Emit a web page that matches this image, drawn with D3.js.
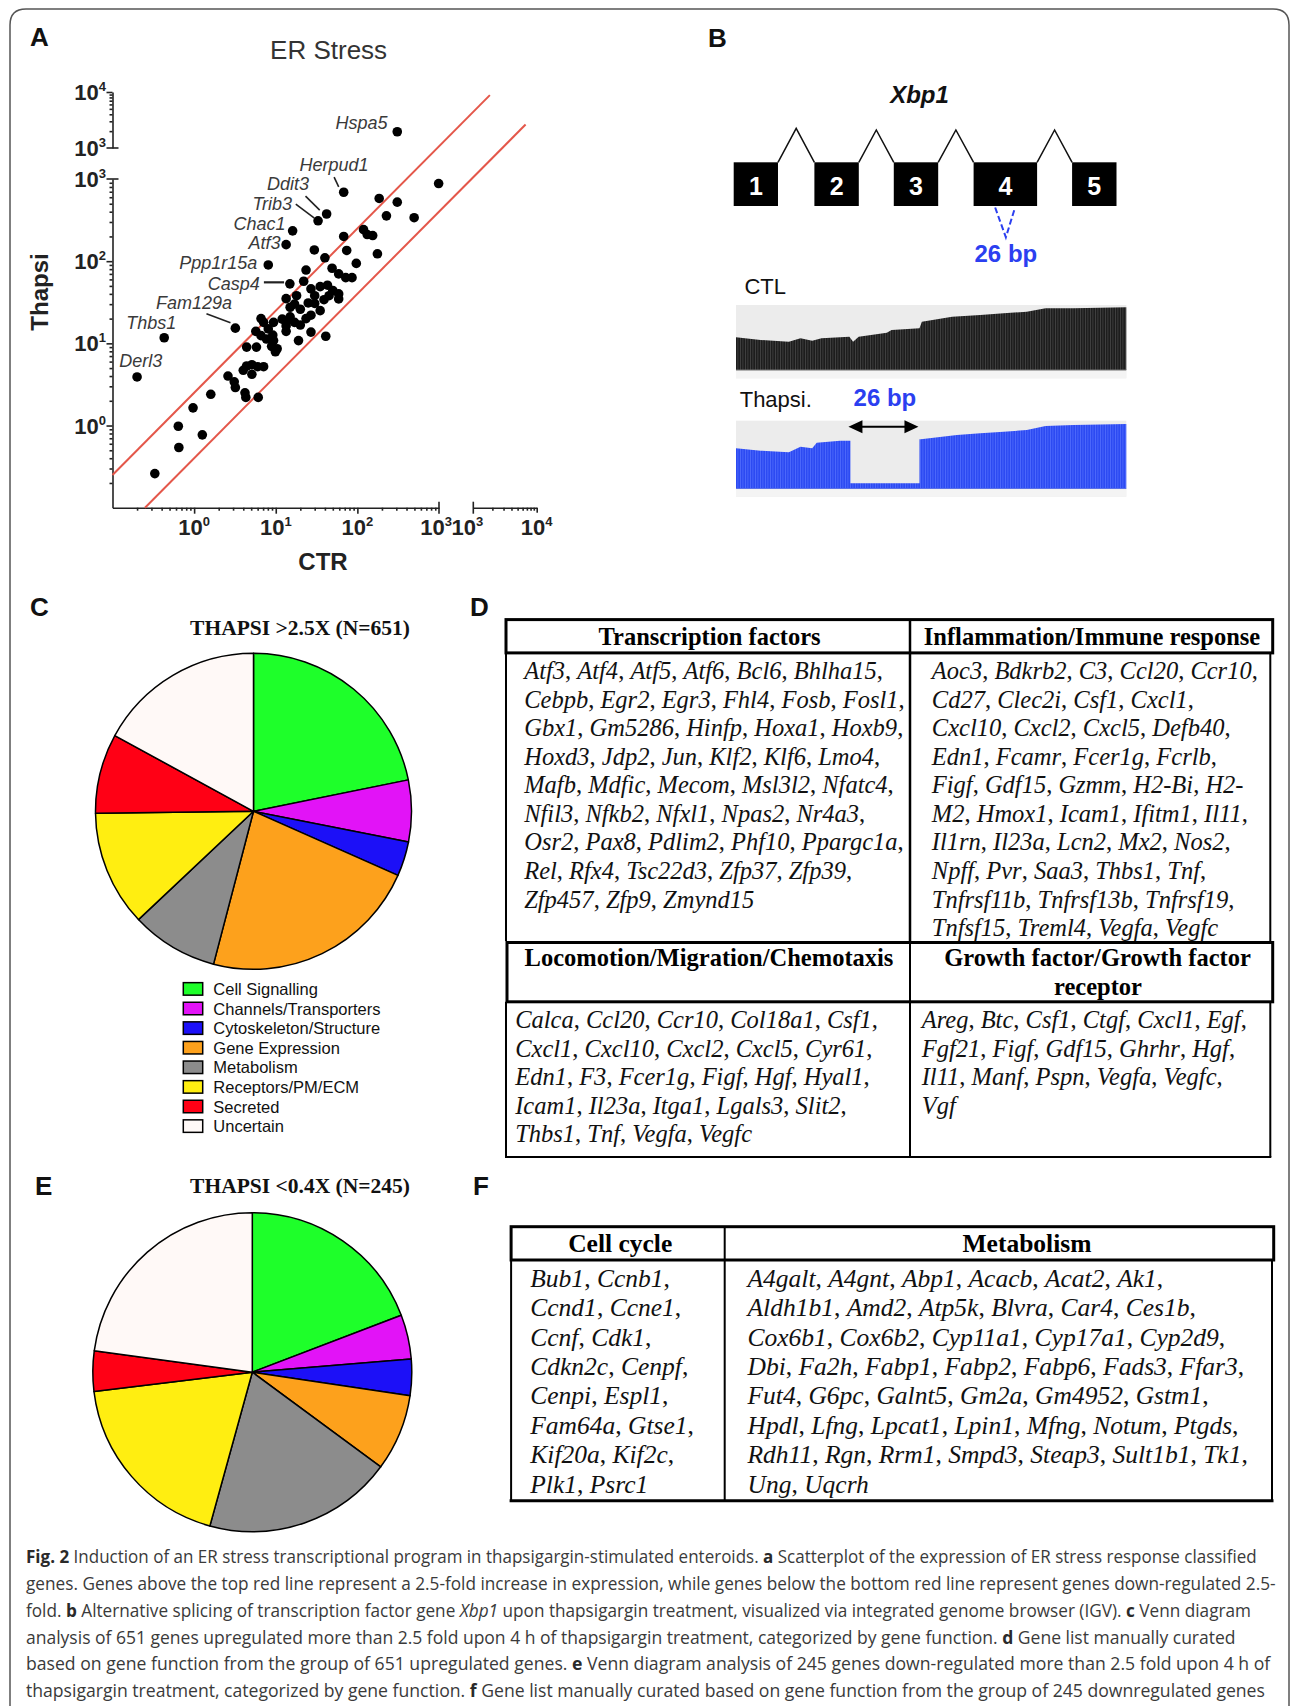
<!DOCTYPE html>
<html><head><meta charset="utf-8">
<script src="https://cdn.jsdelivr.net/npm/d3@7"></script>
<style>body{margin:0;background:#fff}svg{display:block}</style>
</head><body>
<svg id="fig" width="1292" height="1706"></svg>
<script>
// ================= DATA =================
// Panel A: ER stress genes, [CTR, Thapsi] expression
const ctrValues = [0.2,0.43,3.2,8.1,13.4,16.1,33,42,68,14.9,308,990,185,308,227,496,68,119,132,154,74,29.7,40,176,97,49,59,72,86,23.5,22,27,35,43,50,59,45,39,59,18,13.4,30,25,17,15,20,27,23.5,15,12,17,13.4,20,30,35,6.6,9.4,8.1,13.4,27,41,19,5.7,6.6,9.2,9.4,7.7,8.9,10.4,9.9,4.4,5.8,4.4,5.1,6,7.1,4,5.1,2.6,3.1,3.2,4.2,4.3,6.1,1.6,0.97,0.64,1.26,0.65,0.33,7.1,13.4];
const thapsiValues = [3.9,11.7,15.3,90,159,234,310,375,690,53,1950,880,580,523,356,338,200,242,211,205,135,137,110,123,94,82,70,63,63,78,57,46,49,51,44,40,38,34,34.7,38,35,38,31,30,27.5,26,22,20,21,19.7,18,16.3,16.7,30.6,25,20,18,15,14,13.7,12.2,10.8,14,12.4,12.6,10.8,11.3,9.2,8.6,7.9,9,9,5.3,5.5,5.2,5.2,4.7,4.2,4,3.4,2.9,2.5,2.2,2.2,2.4,1.64,0.98,0.77,0.54,0.26,18,18];
const labelNames = ["Derl3","Thbs1","Fam129a","Ppp1r15a","Atf3","Chac1","Trib3","Ddit3","Herpud1","Casp4","Hspa5"];
const labelPoint = [0,1,2,3,4,5,6,7,8,9,10];
const foldLines = [2.5, 0.4];
const foldLineCtrRange = [[0.1, 4200], [0.25, 11500]];
const yTickValues = [1, 10, 100, 1000];
const yTickExp = ["0","1","2","3"];
const xTickValues = [1, 10, 100, 1000];
const xTickExp = ["0","1","2","3"];

// Panel B: Xbp1 exons (relative gene units) and read coverage
const exonNumbers = [1,2,3,4,5];
const exonStart = [0, 21.08, 41.82, 62.67, 88.4];
const exonEnd = [11.57, 32.68, 53.42, 79.26, 100];
const spliceSite = [68.3, 71.1, 73.5];
const covPosCTL = [0,9.3,19.9,24.3,28.7,32.2,42.7,44.1,46.2,56.8,58.6,69.1,70,81.4,92,100.8,109.5,116.6,127.1,147];
const covCTL = [50.3,46.2,43.6,48.7,45.1,48.7,51.3,43.6,51.3,57.4,61.5,64.1,74.4,82,84.6,87.2,89.7,94.9,94.9,96.4];
const covPosThapsi = [0,9.3,19.9,24.3,28.7,30.4,39.2,43.1,43.1,69.1,69.1,69.6,83.2,92,100.8,109.5,116.6,127.1,147];
const covThapsi = [59.1,55.7,53.2,61.6,59.1,67.5,70.4,70.4,7.4,7.4,72.4,72.4,78.8,81.3,83.7,86.2,92.1,93.6,95.1];
const deletionBp = [43.1, 69.1];

// Panels C / E: gene function categories
const categories = ["Cell Signalling","Channels/Transporters","Cytoskeleton/Structure","Gene Expression","Metabolism","Receptors/PM/ECM","Secreted","Uncertain"];
const countsUp = [142,41,23,146,58,77,53,111];
const countsDown = [47,11,9,19,47,46,10,56];
const catColors = ["#1eff2a","#e213f7","#1c10f7","#fda11c","#8c8c8c","#ffee11","#ff0015","#fff9f7"];

// Panel D table
const tfGenes = ["Atf3, Atf4, Atf5, Atf6, Bcl6, Bhlha15,","Cebpb, Egr2, Egr3, Fhl4, Fosb, Fosl1,","Gbx1, Gm5286, Hinfp, Hoxa1, Hoxb9,","Hoxd3, Jdp2, Jun, Klf2, Klf6, Lmo4,","Mafb, Mdfic, Mecom, Msl3l2, Nfatc4,","Nfil3, Nfkb2, Nfxl1, Npas2, Nr4a3,","Osr2, Pax8, Pdlim2, Phf10, Ppargc1a,","Rel, Rfx4, Tsc22d3, Zfp37, Zfp39,","Zfp457, Zfp9, Zmynd15"];
const immuneGenes = ["Aoc3, Bdkrb2, C3, Ccl20, Ccr10,","Cd27, Clec2i, Csf1, Cxcl1,","Cxcl10, Cxcl2, Cxcl5, Defb40,","Edn1, Fcamr, Fcer1g, Fcrlb,","Figf, Gdf15, Gzmm, H2-Bi, H2-","M2, Hmox1, Icam1, Ifitm1, Il11,","Il1rn, Il23a, Lcn2, Mx2, Nos2,","Npff, Pvr, Saa3, Thbs1, Tnf,","Tnfrsf11b, Tnfrsf13b, Tnfrsf19,","Tnfsf15, Treml4, Vegfa, Vegfc"];
const locoGenes = ["Calca, Ccl20, Ccr10, Col18a1, Csf1,","Cxcl1, Cxcl10, Cxcl2, Cxcl5, Cyr61,","Edn1, F3, Fcer1g, Figf, Hgf, Hyal1,","Icam1, Il23a, Itga1, Lgals3, Slit2,","Thbs1, Tnf, Vegfa, Vegfc"];
const growthGenes = ["Areg, Btc, Csf1, Ctgf, Cxcl1, Egf,","Fgf21, Figf, Gdf15, Ghrhr, Hgf,","Il11, Manf, Pspn, Vegfa, Vegfc,","Vgf"];
// Panel F table
const cellCycleGenes = ["Bub1, Ccnb1,","Ccnd1, Ccne1,","Ccnf, Cdk1,","Cdkn2c, Cenpf,","Cenpi, Espl1,","Fam64a, Gtse1,","Kif20a, Kif2c,","Plk1, Psrc1"];
const metabGenes = ["A4galt, A4gnt, Abp1, Acacb, Acat2, Ak1,","Aldh1b1, Amd2, Atp5k, Blvra, Car4, Ces1b,","Cox6b1, Cox6b2, Cyp11a1, Cyp17a1, Cyp2d9,","Dbi, Fa2h, Fabp1, Fabp2, Fabp6, Fads3, Ffar3,","Fut4, G6pc, Galnt5, Gm2a, Gm4952, Gstm1,","Hpdl, Lfng, Lpcat1, Lpin1, Mfng, Notum, Ptgds,","Rdh11, Rgn, Rrm1, Smpd3, Steap3, Sult1b1, Tk1,","Ung, Uqcrh"];

// Caption
const captionLines = [
  [["Fig. 2","b"],[" Induction of an ER stress transcriptional program in thapsigargin-stimulated enteroids. ",""],["a","b"],[" Scatterplot of the expression of ER stress response classified",""]],
  [["genes. Genes above the top red line represent a 2.5-fold increase in expression, while genes below the bottom red line represent genes down-regulated 2.5-",""]],
  [["fold. ",""],["b","b"],[" Alternative splicing of transcription factor gene ",""],["Xbp1","i"],[" upon thapsigargin treatment, visualized via integrated genome browser (IGV). ",""],["c","b"],[" Venn diagram",""]],
  [["analysis of 651 genes upregulated more than 2.5 fold upon 4 h of thapsigargin treatment, categorized by gene function. ",""],["d","b"],[" Gene list manually curated",""]],
  [["based on gene function from the group of 651 upregulated genes. ",""],["e","b"],[" Venn diagram analysis of 245 genes down-regulated more than 2.5 fold upon 4 h of",""]],
  [["thapsigargin treatment, categorized by gene function. ",""],["f","b"],[" Gene list manually curated based on gene function from the group of 245 downregulated genes",""]]
];

// ================= DRAWING =================
const SANS = "'Liberation Sans', Arial, Helvetica, sans-serif";
const SERIF = "'Liberation Serif', 'Times New Roman', Times, serif";
const svg = d3.select('#fig');
svg.append('rect').attr('width',1292).attr('height',1706).attr('fill','#fff');
const defs = svg.append('defs');

// frame
svg.append('path').attr('d','M10,1706 V25 Q10,9 26,9 H1273 Q1289,9 1289,25 V1706')
  .attr('fill','none').attr('stroke','#555').attr('stroke-width',1.5);

function panelLetter(t,x,y){
  svg.append('text').attr('x',x).attr('y',y).attr('font-family',SANS).attr('font-weight','bold')
    .attr('font-size',26).attr('fill','#111').text(t);
}
panelLetter('A',30,46); panelLetter('B',708,46.5);
panelLetter('C',30,615.5); panelLetter('D',470,615.5);
panelLetter('E',35,1195); panelLetter('F',473,1195);

// ---------- Panel A ----------
const A = svg.append('g');
const xLo = d3.scaleLog().domain([0.1,1000]).range([112.5,439]);
const xHi = d3.scaleLog().domain([1000,10000]).range([473.3,536.7]);
const yLo = d3.scaleLog().domain([0.1,1000]).range([507.7,179]);
const yHi = d3.scaleLog().domain([1000,10000]).range([148,92]);
const yOf = v => v > 1000 ? yHi(v) : yLo(v);
const AX = '#222';

A.append('text').attr('x',328.6).attr('y',59).attr('text-anchor','middle').attr('font-family',SANS)
  .attr('font-size',26).attr('fill','#333').text('ER Stress');

function minors(lo,hi){const t=[];for(let d=lo;d<hi;d*=10)for(let k=2;k<=9;k++)t.push(d*k);return t;}
function styleAxis(g){g.selectAll('path,line').attr('stroke',AX).attr('stroke-width',1.6);g.selectAll('text').remove();}

const x0 = xLo.range()[0], y0 = yLo.range()[0];
// Y lower
A.append('g').attr('transform',`translate(${x0},0)`).call(d3.axisLeft(yLo).tickValues(yTickValues.slice(0,3)).tickSize(6).tickSizeOuter(0)).call(styleAxis);
A.append('g').attr('transform',`translate(${x0},0)`).call(d3.axisLeft(yLo).tickValues(minors(0.1,1000)).tickSize(3).tickSizeOuter(0)).call(styleAxis).select('.domain').remove();
A.append('line').attr('x1',x0-6).attr('x2',x0+6).attr('y1',yLo(1000)).attr('y2',yLo(1000)).attr('stroke',AX).attr('stroke-width',1.6);
// Y upper
A.append('g').attr('transform',`translate(${x0},0)`).call(d3.axisLeft(yHi).tickValues([10000]).tickSize(6).tickSizeOuter(0)).call(styleAxis);
A.append('g').attr('transform',`translate(${x0},0)`).call(d3.axisLeft(yHi).tickValues(minors(1000,10000)).tickSize(3).tickSizeOuter(0)).call(styleAxis).select('.domain').remove();
A.append('line').attr('x1',x0-6).attr('x2',x0+6).attr('y1',yHi(1000)).attr('y2',yHi(1000)).attr('stroke',AX).attr('stroke-width',1.6);
// X lower
A.append('g').attr('transform',`translate(0,${y0})`).call(d3.axisBottom(xLo).tickValues(xTickValues.slice(0,3)).tickSize(6).tickSizeOuter(0)).call(styleAxis);
A.append('g').attr('transform',`translate(0,${y0})`).call(d3.axisBottom(xLo).tickValues(minors(0.1,1000)).tickSize(3).tickSizeOuter(0)).call(styleAxis).select('.domain').remove();
A.append('line').attr('x1',xLo(1000)).attr('x2',xLo(1000)).attr('y1',y0-6).attr('y2',y0+6).attr('stroke',AX).attr('stroke-width',1.6);
// X upper
A.append('g').attr('transform',`translate(0,${y0})`).call(d3.axisBottom(xHi).tickValues([10000]).tickSize(5).tickSizeOuter(0)).call(styleAxis);
A.append('g').attr('transform',`translate(0,${y0})`).call(d3.axisBottom(xHi).tickValues(minors(1000,10000)).tickSize(3).tickSizeOuter(0)).call(styleAxis).select('.domain').remove();
A.append('line').attr('x1',xHi(1000)).attr('x2',xHi(1000)).attr('y1',y0-6).attr('y2',y0+6).attr('stroke',AX).attr('stroke-width',1.6);

function powLabel(x,y,exp,anchor){
  const t=A.append('text').attr('x',x).attr('y',y).attr('text-anchor',anchor).attr('font-family',SANS)
    .attr('font-weight','bold').attr('font-size',22).attr('fill','#222');
  t.append('tspan').text('10'); t.append('tspan').attr('dy',-9).attr('font-size',13).text(exp);
}
yTickValues.forEach((v,i)=>powLabel(x0-6.5, yLo(v)+8, yTickExp[i], 'end'));
powLabel(x0-6.5, yHi(1000)+8, '3', 'end');
powLabel(x0-6.5, yHi(10000)+8, '4', 'end');
xTickValues.forEach((v,i)=>powLabel(xLo(v)+(v===1000?-3:0), 535, xTickExp[i], 'middle'));
powLabel(xHi(1000)-6, 535, '3', 'middle');
powLabel(xHi(10000), 535, '4', 'middle');

A.append('text').attr('transform','translate(47.5,292) rotate(-90)').attr('text-anchor','middle')
  .attr('font-family',SANS).attr('font-weight','bold').attr('font-size',24).attr('fill','#222').text('Thapsi');
A.append('text').attr('x',323).attr('y',570).attr('text-anchor','middle')
  .attr('font-family',SANS).attr('font-weight','bold').attr('font-size',24).attr('fill','#222').text('CTR');

// fold lines
const lineGen = d3.line().x(d=>xLo(d[0])).y(d=>yLo(d[1]));
foldLines.forEach((f,i)=>{
  const r = foldLineCtrRange[i];
  A.append('path').attr('d',lineGen([[r[0],r[0]*f],[r[1],r[1]*f]])).attr('stroke','#e4574a')
    .attr('stroke-width',2).attr('fill','none');
});
// points
const pts = ctrValues.map((c,i)=>({c, t:thapsiValues[i]}));
A.selectAll('circle.pt').data(pts).join('circle').attr('class','pt')
  .attr('cx',d=>xLo(d.c)).attr('cy',d=>yOf(d.t)).attr('r',4.8).attr('fill','#000');

// gene labels (offsets relative to their point)
const labelLayout = {
  Derl3:{dx:3.7,dy:-9.5,a:'middle'}, Thbs1:{dx:-12.9,dy:-9.2,a:'middle'},
  Fam129a:{dx:-3.3,dy:-19,a:'end',lead:[-28.9,-14.4,-4.9,-5.5]},
  Ppp1r15a:{dx:-11,dy:4,a:'end'}, Atf3:{dx:-5.7,dy:4.1,a:'end'}, Chac1:{dx:-7,dy:-1.3,a:'end'},
  Trib3:{dx:-26,dy:-10.7,a:'end',lead:[-22.3,-16.7,-3.7,-2.7]},
  Ddit3:{dx:-17.5,dy:-24.5,a:'end',lead:[-21.1,-17.9,-6.9,-3.9]},
  Herpud1:{dx:-9.6,dy:-21,a:'middle',lead:[-9.6,-15.2,-5,-5.4]},
  Casp4:{dx:-30,dy:6.6,a:'end',lead:[-26,-1.5,-5.8,-1.5]},
  Hspa5:{dx:-9.7,dy:-2.3,a:'end'}
};
labelNames.forEach((name,i)=>{
  const p = pts[labelPoint[i]], px = xLo(p.c), py = yOf(p.t), L = labelLayout[name];
  A.append('text').attr('x',px+L.dx).attr('y',py+L.dy).attr('text-anchor',L.a).attr('font-family',SANS)
    .attr('font-style','italic').attr('font-size',18).attr('fill','#3a3a3a').text(name);
  if (L.lead) A.append('line').attr('x1',px+L.lead[0]).attr('y1',py+L.lead[1]).attr('x2',px+L.lead[2]).attr('y2',py+L.lead[3])
    .attr('stroke','#222').attr('stroke-width',name==='Casp4'?2.2:1.6);
});

// ---------- Panel B ----------
const B = svg.append('g');
const xGene = d3.scaleLinear().domain([0,100]).range([733.7,1116.5]);
const exonTop = 162.3, exonBot = 206;
B.append('text').attr('x',919.5).attr('y',103.3).attr('text-anchor','middle').attr('font-family',SANS)
  .attr('font-weight','bold').attr('font-style','italic').attr('font-size',24).attr('fill','#111').text('Xbp1');
// introns
for (let i=0;i<exonNumbers.length-1;i++){
  const a = xGene(exonEnd[i]), b = xGene(exonStart[i+1]);
  B.append('path').attr('d',`M${a},${exonTop} L${(a+b)/2},${i===0?128.3:130} L${b},${exonTop}`)
    .attr('fill','none').attr('stroke','#111').attr('stroke-width',1.5);
}
exonNumbers.forEach((n,i)=>{
  B.append('rect').attr('x',xGene(exonStart[i])).attr('y',exonTop).attr('width',xGene(exonEnd[i])-xGene(exonStart[i]))
    .attr('height',exonBot-exonTop).attr('fill','#000');
  B.append('text').attr('x',(xGene(exonStart[i])+xGene(exonEnd[i]))/2).attr('y',195).attr('text-anchor','middle')
    .attr('font-family',SANS).attr('font-weight','bold').attr('font-size',25).attr('fill','#fff').text(n);
});
const BLUE = '#2b3ff0';
B.append('path').attr('d',`M${xGene(spliceSite[0])},207.5 L${xGene(spliceSite[1])},237.3 L${xGene(spliceSite[2])},207.5`)
  .attr('fill','none').attr('stroke',BLUE).attr('stroke-width',2).attr('stroke-dasharray','6,3');
B.append('text').attr('x',xGene(spliceSite[1])).attr('y',261.7).attr('text-anchor','middle').attr('font-family',SANS)
  .attr('font-weight','bold').attr('font-size',24).attr('fill',BLUE).text('26 bp');

// tracks
const xTrack = d3.scaleLinear().domain([0,147]).range([736,1126.3]);
const yCTL = d3.scaleLinear().domain([0,100]).range([370,305]);
const yTH = d3.scaleLinear().domain([0,100]).range([488.3,420.7]);
function stripes(id, base, line){
  const p = defs.append('pattern').attr('id',id).attr('patternUnits','userSpaceOnUse').attr('width',2.5).attr('height',40);
  p.append('rect').attr('width',2.5).attr('height',40).attr('fill',base);
  p.append('rect').attr('width',0.7).attr('height',40).attr('fill',line);
}
stripes('stK','#1d1d1d','#4a4a4a');
stripes('stB','#2c4af2','#5470ff');

B.append('text').attr('x',744.4).attr('y',294).attr('font-family',SANS).attr('font-size',22).attr('fill','#111').text('CTL');
B.append('rect').attr('x',736).attr('y',305).attr('width',390.3).attr('height',73.3).attr('fill','#ececec');
B.append('rect').attr('x',736).attr('y',371).attr('width',390.3).attr('height',7.3).attr('fill','#f4f4f4');
const areaCTL = d3.area().x((d,i)=>xTrack(covPosCTL[i])).y0(yCTL(0)).y1(d=>yCTL(d));
B.append('path').attr('d',areaCTL(covCTL)).attr('fill','url(#stK)');
B.append('line').attr('x1',736).attr('x2',1126.3).attr('y1',370).attr('y2',370).attr('stroke','#777').attr('stroke-width',1.2);

B.append('text').attr('x',739.7).attr('y',406.7).attr('font-family',SANS).attr('font-size',22).attr('fill','#111').text('Thapsi.');
const gapMid = (xTrack(deletionBp[0])+xTrack(deletionBp[1]))/2;
B.append('text').attr('x',gapMid).attr('y',406).attr('text-anchor','middle').attr('font-family',SANS)
  .attr('font-weight','bold').attr('font-size',24).attr('fill',BLUE).text('26 bp');
B.append('rect').attr('x',736).attr('y',420.7).attr('width',390.3).attr('height',76).attr('fill','#ececec');
B.append('rect').attr('x',736).attr('y',489.5).attr('width',390.3).attr('height',7.2).attr('fill','#f4f4f4');
const areaTH = d3.area().x((d,i)=>xTrack(covPosThapsi[i])).y0(yTH(0)).y1(d=>yTH(d));
B.append('path').attr('d',areaTH(covThapsi)).attr('fill','url(#stB)');
B.append('line').attr('x1',736).attr('x2',1126.3).attr('y1',488.5).attr('y2',488.5).attr('stroke','#5a70e8').attr('stroke-width',1.2);
// double arrow over deletion
const ga = xTrack(deletionBp[0])-2, gb = xTrack(deletionBp[1])-1, ay = 426.7;
B.append('line').attr('x1',ga+12).attr('x2',gb-12).attr('y1',ay).attr('y2',ay).attr('stroke','#000').attr('stroke-width',2);
B.append('path').attr('d',`M${ga},${ay} L${ga+14},${ay-6.5} L${ga+14},${ay+6.5}Z M${gb},${ay} L${gb-14},${ay-6.5} L${gb-14},${ay+6.5}Z`).attr('fill','#000');

// ---------- Pies C / E ----------
function drawPie(cx, cy, r, counts, title, titleY){
  const g = svg.append('g').attr('transform',`translate(${cx},${cy})`);
  const arcs = d3.pie().sort(null)(counts);
  const arc = d3.arc().innerRadius(0).outerRadius(r);
  g.selectAll('path').data(arcs).join('path').attr('d',arc).attr('fill',(d,i)=>catColors[i])
    .attr('stroke','#000').attr('stroke-width',1.5).attr('stroke-linejoin','round');
  svg.append('text').attr('x',300).attr('y',titleY).attr('text-anchor','middle').attr('font-family',SERIF)
    .attr('font-weight','bold').attr('font-size',21.5).attr('fill','#111').text(title);
}
drawPie(253.5, 811.3, 158, countsUp, 'THAPSI >2.5X (N=651)', 635.4);
drawPie(252.3, 1372.2, 159.5, countsDown, 'THAPSI <0.4X (N=245)', 1193.3);
// legend
categories.forEach((c,i)=>{
  const y = 988.9 + i*19.6;
  svg.append('rect').attr('x',183.3).attr('y',y-6.25).attr('width',19.4).attr('height',12.5)
    .attr('fill',catColors[i]).attr('stroke','#000').attr('stroke-width',1.5);
  svg.append('text').attr('x',213.3).attr('y',y+6).attr('font-family',SANS).attr('font-size',16.5).attr('fill','#111').text(c);
});

// ---------- Tables ----------
const T = svg.append('g');
function hline(x1,x2,y,w){T.append('line').attr('x1',x1).attr('x2',x2).attr('y1',y).attr('y2',y).attr('stroke','#000').attr('stroke-width',w);}
function vline(x,y1,y2,w){T.append('line').attr('x1',x).attr('x2',x).attr('y1',y1).attr('y2',y2).attr('stroke','#000').attr('stroke-width',w);}
function boxR(x1,y1,x2,y2,w){T.append('rect').attr('x',x1).attr('y',y1).attr('width',x2-x1).attr('height',y2-y1).attr('fill','none').attr('stroke','#000').attr('stroke-width',w);}
function header(txt,x,y,size){T.append('text').attr('x',x).attr('y',y).attr('text-anchor','middle').attr('font-family',SERIF)
  .attr('font-weight','bold').attr('font-size',size).attr('fill','#000').text(txt);}
function geneLines(lines,x,y0,dy,size){
  lines.forEach((s,k)=>{
    const t = T.append('text').attr('x',x).attr('y',y0+k*dy).attr('font-family',SERIF).attr('font-size',size)
      .attr('fill','#111').style('white-space','pre');
    s.split(/(,\s*)/).forEach(p=>{ if(!p) return; t.append('tspan').attr('font-style',/^,/.test(p)?'normal':'italic').text(p); });
  });
}
// D
boxR(506,619.6,1272.7,652.9,3);
vline(910,619.6,941,2.5);
vline(506,652.9,941,2); vline(1270.3,652.9,941,2);
boxR(507,942.5,1272.7,1001.8,3);
vline(910,942.5,1157,2);
vline(506,1001.8,1157,2); vline(1270.3,1001.8,1157,2); hline(505,1271.3,1157,2);
header('Transcription factors',709.6,644.6,24.5);
header('Inflammation/Immune response',1092,644.6,24.5);
header('Locomotion/Migration/Chemotaxis',709,966,24.5);
header('Growth factor/Growth factor',1097.5,966,24.5);
header('receptor',1098,994.6,24.5);
geneLines(tfGenes,524.2,679,28.57,24.5);
geneLines(immuneGenes,931.8,679,28.57,24.5);
geneLines(locoGenes,515.2,1028,28.57,24.5);
geneLines(growthGenes,921.7,1028,28.57,24.5);
// F
boxR(511.1,1226.7,1273.7,1260,3);
vline(724.7,1226.7,1500.7,2);
vline(511.1,1260,1500.7,2); vline(1272,1260,1500.7,2); hline(509.6,1273.5,1500.7,3);
header('Cell cycle',620.2,1251.7,25.5);
header('Metabolism',1027,1251.7,25.5);
geneLines(cellCycleGenes,530.3,1286.7,29.4,25.5);
geneLines(metabGenes,747.5,1286.7,29.4,25.5);

// ---------- Caption (condensed by horizontal scaling to the measured line widths) ----------
const capWidths = [1231,1251,1226,1210.5,1245,1240];
captionLines.forEach((segs,k)=>{
  const y = 1563.3 + k*26.75;
  const t = svg.append('text').attr('x',0).attr('y',0)
    .attr('font-family',"'Open Sans', 'Noto Sans', sans-serif")
    .attr('font-size',18.5).attr('fill','#3a3a3a').style('white-space','pre');
  segs.forEach(s=>{
    const sp = t.append('tspan').text(s[0]);
    if (s[1]==='b') sp.attr('font-weight','bold').attr('fill','#2a2a2a');
    if (s[1]==='i') sp.attr('font-style','italic');
  });
  const w = t.node().getComputedTextLength() || capWidths[k];
  t.attr('transform',`translate(26,${y}) scale(${(capWidths[k]/w).toFixed(4)},1)`);
});
</script>
</body></html>
